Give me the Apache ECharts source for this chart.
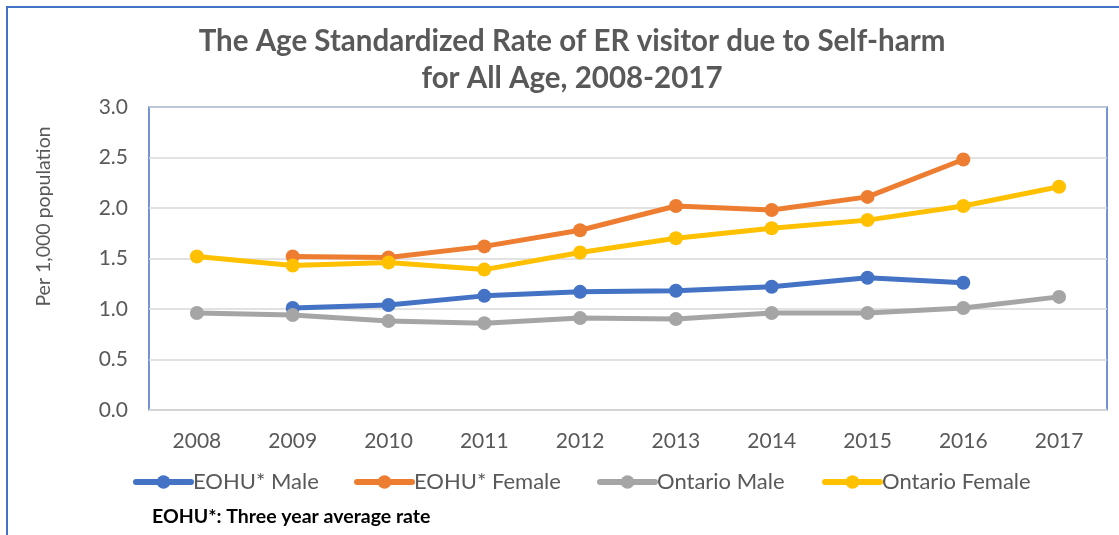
<!DOCTYPE html>
<html>
<head>
<meta charset="utf-8">
<script src="https://cdn.jsdelivr.net/npm/echarts@6/dist/echarts.min.js"></script>
<style>
  html, body { margin: 0; padding: 0; background: #ffffff; }
  #chart { width: 1119px; height: 535px; }
</style>
</head>
<body>
<div id="chart"></div>
<script>
// categories + values
const years = ["2008", "2009", "2010", "2011", "2012", "2013", "2014", "2015", "2016", "2017"];
const eohuMale = ["-", 1.01, 1.04, 1.13, 1.17, 1.18, 1.22, 1.31, 1.26, "-"];
const eohuFemale = ["-", 1.52, 1.51, 1.62, 1.78, 2.02, 1.98, 2.11, 2.48, "-"];
const ontarioMale = [0.96, 0.94, 0.88, 0.86, 0.91, 0.90, 0.96, 0.96, 1.01, 1.12];
const ontarioFemale = [1.52, 1.43, 1.46, 1.39, 1.56, 1.70, 1.80, 1.88, 2.02, 2.21];
const yTicks = [0, 0.5, 1, 1.5, 2, 2.5, 3];

const names = ["EOHU* Male", "EOHU* Female", "Ontario Male", "Ontario Female"];
const colors = ["#4472C4", "#ED7D31", "#A5A5A5", "#FFC000"];
const values = [eohuMale, eohuFemale, ontarioMale, ontarioFemale];
const legendLeft = [133, 354, 597, 822];

const font = "Lato, 'Open Sans', sans-serif";
const txt = "#595959";

let chart = echarts.init(document.getElementById("chart"));

let option = {
  animation: false,
  textStyle: { fontFamily: font },
  title: {
    text: "The Age Standardized Rate of ER visitor due to Self-harm\nfor All Age, 2008-2017",
    left: 567,
    top: 18,
    textAlign: "center",
    textStyle: {
      fontFamily: font,
      fontSize: 29.5,
      fontWeight: "bold",
      color: txt,
      lineHeight: 37,
    },
  },
  grid: {
    left: 149,
    right: 12,
    top: 107,
    bottom: 125,
    show: true,
    borderColor: "#4472C4",
    borderWidth: 1.5,
    backgroundColor: "#ffffff",
  },
  legend: names.map((n, i) => ({
    data: [n],
    left: legendLeft[i],
    top: 471,
    padding: 0,
    itemWidth: 55,
    itemHeight: 17,
    itemGap: 2,
    lineStyle: { width: 6, cap: "round" },
    textStyle: { fontFamily: font, fontSize: 22, color: txt, padding: [0, 0, 0, -3] },
  })),
  xAxis: {
    type: "category",
    data: years,
    boundaryGap: true,
    axisLine: { show: true, lineStyle: { color: "#d9d9d9", width: 1.5 } },
    axisTick: { show: false },
    axisLabel: { fontFamily: font, fontSize: 21, color: txt, margin: 21 },
  },
  yAxis: {
    type: "value",
    min: yTicks[0],
    max: yTicks[yTicks.length - 1],
    interval: 0.5,
    name: "Per 1,000 population",
    nameLocation: "middle",
    nameGap: 95,
    nameTextStyle: { fontFamily: font, fontSize: 19.5, color: txt, padding: [0, 0, 0, 84] },
    axisLine: { show: false },
    axisTick: { show: false },
    splitLine: { lineStyle: { color: "#d9d9d9", width: 1.5 } },
    axisLabel: {
      fontFamily: font,
      fontSize: 21,
      color: txt,
      margin: 21,
      formatter: (v) => v.toFixed(1),
    },
  },
  graphic: [
    {
      type: "rect",
      shape: { x: 7, y: 7, width: 1200, height: 600 },
      style: { fill: null, stroke: "#4472C4", lineWidth: 2 },
      silent: true,
      z: -1,
    },
    {
      type: "text",
      left: 152,
      top: 507,
      style: {
        text: "EOHU*: Three year average rate",
        fontFamily: font,
        fontSize: 19.5,
        fontWeight: "bold",
        fill: "#000000",
      },
    },
  ],
  series: names.map((n, i) => ({
    name: n,
    type: "line",
    data: values[i],
    symbol: "circle",
    symbolSize: 14,
    connectNulls: false,
    itemStyle: { color: colors[i] },
    lineStyle: { color: colors[i], width: 5 },
  })),
};

chart.setOption(option);
</script>
</body>
</html>
